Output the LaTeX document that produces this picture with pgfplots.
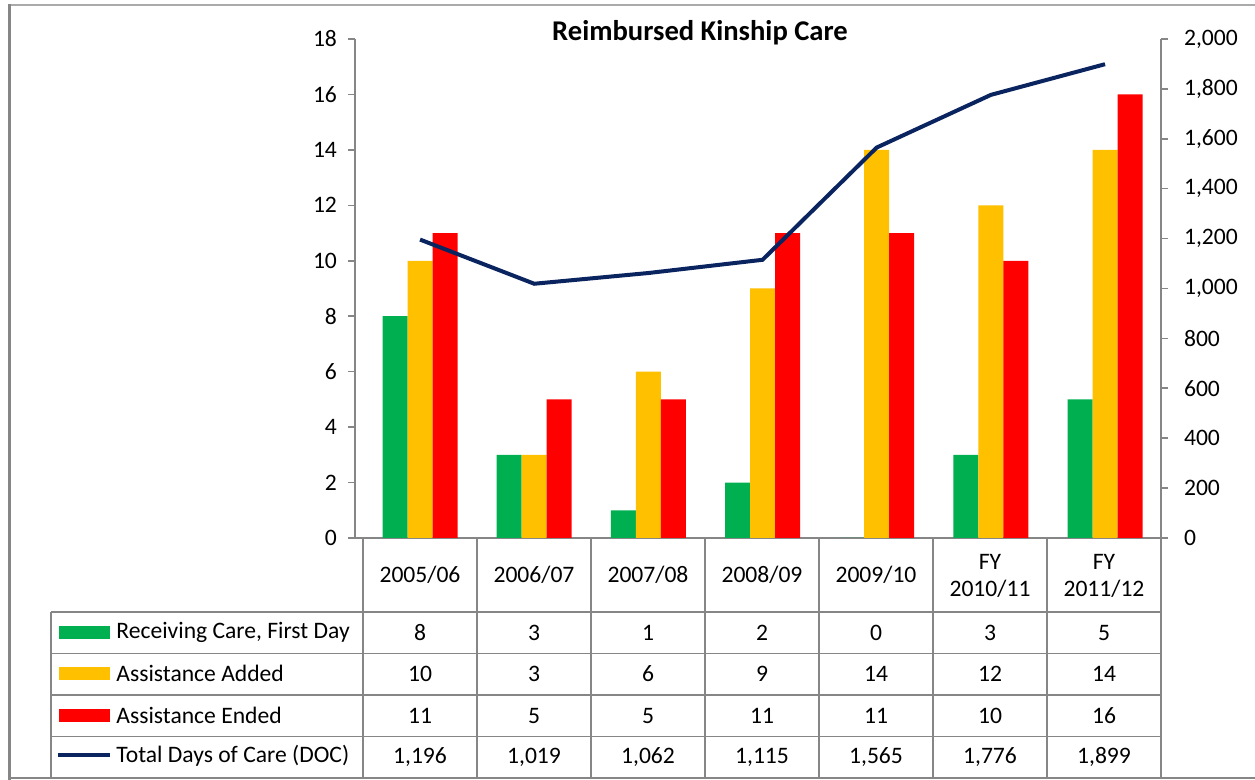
\documentclass[border=0pt]{standalone}
\usepackage{pgfplots}
\pgfplotsset{compat=1.18}
\usepackage{fontspec}
\setmainfont{Carlito}
\definecolor{cgreen}{HTML}{00B050}
\definecolor{cyellow}{HTML}{FFC000}
\definecolor{cred}{HTML}{FF0000}
\definecolor{cnavy}{HTML}{0A2460}
\definecolor{cgray}{HTML}{868686}
\newcommand{\tfont}{\fontsize{11.8pt}{13.5pt}\selectfont}
\begin{document}
\begin{tikzpicture}[font=\tfont]
\begin{scope}[x=0.5pt,y=0.5pt]
\path[use as bounding box] (0,0) rectangle (1255,780);
\fill[white] (0,0) rectangle (1255,780);
% outer frame
\draw[cgray!70,line width=1pt] (8,775) -- (1255,775);
\draw[cgray,line width=1.5pt] (9.5,776) -- (9.5,0);
\draw[cgray,line width=1pt] (8,2) -- (1255,2);
\end{scope}

% left axis with bars
\begin{axis}[at={(177.5pt,121pt)}, anchor=south west, scale only axis,
  width=403pt, height=249.5pt,
  xmin=-0.57, xmax=6.49, ymin=0, ymax=18,
  ytick={0,2,...,18}, xtick=\empty,
  axis x line*=bottom, axis y line*=left,
  axis line style={-,cgray,line width=0.9pt},
  every outer x axis line/.append style={-},
  every outer y axis line/.append style={-},
  tick align=outside, major tick length=3.5pt,
  tick style={cgray,line width=0.8pt},
  tick label style={font=\tfont},
  /pgf/number format/assume math mode=true,
  yticklabel style={xshift=-2pt},
  ybar=0pt, bar width=12.5pt,
  clip=false]
\addplot[fill=cgreen,draw=none] coordinates {(0,8)(1,3)(2,1)(3,2)(4,0)(5,3)(6,5)};
\addplot[fill=cyellow,draw=none] coordinates {(0,10)(1,3)(2,6)(3,9)(4,14)(5,12)(6,14)};
\addplot[fill=cred,draw=none] coordinates {(0,11)(1,5)(2,5)(3,11)(4,11)(5,10)(6,16)};
\end{axis}

% right axis with line
\begin{axis}[at={(177.5pt,121pt)}, anchor=south west, scale only axis,
  width=403pt, height=249.5pt,
  xmin=-0.57, xmax=6.49, ymin=0, ymax=2000,
  ytick={0,200,...,2000}, xtick=\empty,
  axis x line=none, axis y line*=right,
  axis line style={-,cgray,line width=0.9pt},
  every outer y axis line/.append style={-},
  tick align=outside, major tick length=3.5pt,
  tick style={cgray,line width=0.8pt},
  tick label style={font=\tfont},
  /pgf/number format/assume math mode=true,
  /pgf/number format/1000 sep={,},
  yticklabel style={xshift=4.5pt},
  clip=false]
\addplot[cnavy,line width=2pt] coordinates {(0,1196)(1,1019)(2,1062)(3,1115)(4,1565)(5,1776)(6,1899)};
\end{axis}

\begin{scope}[x=0.5pt,y=0.5pt]
% title
\node[font=\fontsize{14.3pt}{17pt}\selectfont\bfseries] at (700,747) {Reimbursed Kinship Care};

% data table lines
\begin{scope}[cgray,line width=0.8pt]
\foreach \x in {363,477,591,705,819,933,1047} \draw (\x,242) -- (\x,2);
\draw[line width=1pt] (1161,242) -- (1161,2);
\draw (51,168) -- (51,2);
\foreach \y in {168,126.5,85,43.5} \draw (51,\y) -- (1161,\y);
\end{scope}

% header labels
\node at (420,205) {2005/06};
\node at (534,205) {2006/07};
\node at (648,205) {2007/08};
\node at (762,205) {2008/09};
\node at (876,205) {2009/10};
\node[align=center] at (990,204) {FY\\2010/11};
\node[align=center] at (1104,204) {FY\\2011/12};

% legend keys and labels
\fill[cgreen] (59,141) rectangle (110,154);
\fill[cyellow] (59,100) rectangle (110,113);
\fill[cred] (59,58) rectangle (110,71);
\draw[cnavy,line width=2pt] (58,25) -- (110,25);
\node[anchor=west,inner sep=0pt] at (116,148) {Receiving Care, First Day};
\node[anchor=west,inner sep=0pt] at (116,107) {Assistance Added};
\node[anchor=west,inner sep=0pt] at (116,65) {Assistance Ended};
\node[anchor=west,inner sep=0pt] at (116,24) {Total Days of Care (DOC)};

% values
\foreach \v [count=\i from 0] in {8,3,1,2,0,3,5}
  \node at ({420+114.0*\i},147) {\v};
\foreach \v [count=\i from 0] in {10,3,6,9,14,12,14}
  \node at ({420+114.0*\i},106) {\v};
\foreach \v [count=\i from 0] in {11,5,5,11,11,10,16}
  \node at ({420+114.0*\i},64) {\v};
\foreach \v [count=\i from 0] in {{1,196},{1,019},{1,062},{1,115},{1,565},{1,776},{1,899}}
  \node at ({420+114.0*\i},23) {\v};
\end{scope}
\end{tikzpicture}
\end{document}
